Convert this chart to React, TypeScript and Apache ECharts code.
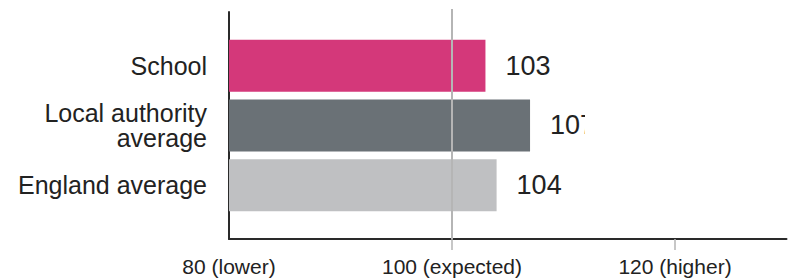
import React, { useEffect, useRef } from "react";
import * as echarts from "echarts";

const categories = ["School", "Local authority\naverage", "England average"];
const values = [103, 107, 104];
const barColors = ["#d4387a", "#6a7176", "#bfc0c2"];
const tickLabels: Record<number, string> = {
  80: "80 (lower)",
  100: "100 (expected)",
  120: "120 (higher)",
};
const expected = 100;
const axisMin = 80;
const axisMax = 130;

export default function App() {
  const ref = useRef<HTMLDivElement>(null);
  useEffect(() => {
    document.body.style.margin = "0";
    if (!ref.current) return;
    const chart = echarts.init(ref.current, null, { renderer: "svg" });
    const font = "'Liberation Sans', Arial, sans-serif";
    const left = 229;
    const right = 3.5;
    chart.setOption({
      animation: false,
      grid: [
        { left, right, top: 12, bottom: 39 },
        { left, right, top: 9, bottom: 39 },
        { left, right, top: 35.75, height: 179.25 },
      ],
      xAxis: [
        {
          gridIndex: 0,
          type: "value",
          min: axisMin,
          max: axisMax,
          interval: 20,
          axisLine: { show: true, lineStyle: { color: "#2a2a2a", width: 2 } },
          axisTick: {
            show: true,
            length: 11,
            customValues: [100, 120],
            lineStyle: { color: "#b5b5b5", width: 1.5 },
          },
          axisLabel: {
            customValues: [80, 100, 120],
            formatter: (v: number) => tickLabels[v] ?? "",
            fontFamily: font,
            fontSize: 21,
            lineHeight: 21,
            color: "#222",
            margin: 17,
          },
          splitLine: { show: false },
        },
        {
          gridIndex: 1,
          type: "value",
          min: axisMin,
          max: axisMax,
          show: false,
          splitLine: { show: false },
        },
        {
          gridIndex: 2,
          type: "value",
          min: axisMin,
          max: axisMax,
          show: false,
          splitLine: { show: false },
        },
      ],
      yAxis: [
        {
          gridIndex: 0,
          type: "category",
          data: categories,
          axisLine: { show: true, lineStyle: { color: "#2a2a2a", width: 2 } },
          axisTick: { show: false },
          axisLabel: { show: false },
        },
        {
          gridIndex: 1,
          type: "category",
          data: categories,
          show: false,
        },
        {
          gridIndex: 2,
          type: "category",
          data: categories,
          inverse: true,
          axisLine: { show: false },
          axisTick: { show: false },
          axisLabel: {
            fontFamily: font,
            fontSize: 25,
            lineHeight: 25,
            color: "#222",
            margin: 22,
            align: "right",
          },
        },
      ],
      series: [
        {
          type: "bar",
          xAxisIndex: 1,
          yAxisIndex: 1,
          data: [],
          silent: true,
          markLine: {
            symbol: "none",
            silent: true,
            label: { show: false },
            lineStyle: { color: "#b5b5b5", width: 2, type: "solid" },
            data: [{ xAxis: expected }],
          },
        },
        {
          type: "bar",
          xAxisIndex: 2,
          yAxisIndex: 2,
          barWidth: 52,
          data: values.map((v, i) => ({ value: v, itemStyle: { color: barColors[i] } })),
          label: {
            show: true,
            position: "right",
            distance: 20,
            fontFamily: font,
            fontSize: 27,
            color: "#222",
          },
          z: 3,
        },
      ],
      graphic: [
        {
          type: "rect",
          shape: { x: 585, y: 104, width: 30, height: 44 },
          style: { fill: "#ffffff" },
          z: 100,
        },
      ],
    });
    return () => chart.dispose();
  }, []);
  return <div ref={ref} style={{ width: 790, height: 278 }} />;
}
